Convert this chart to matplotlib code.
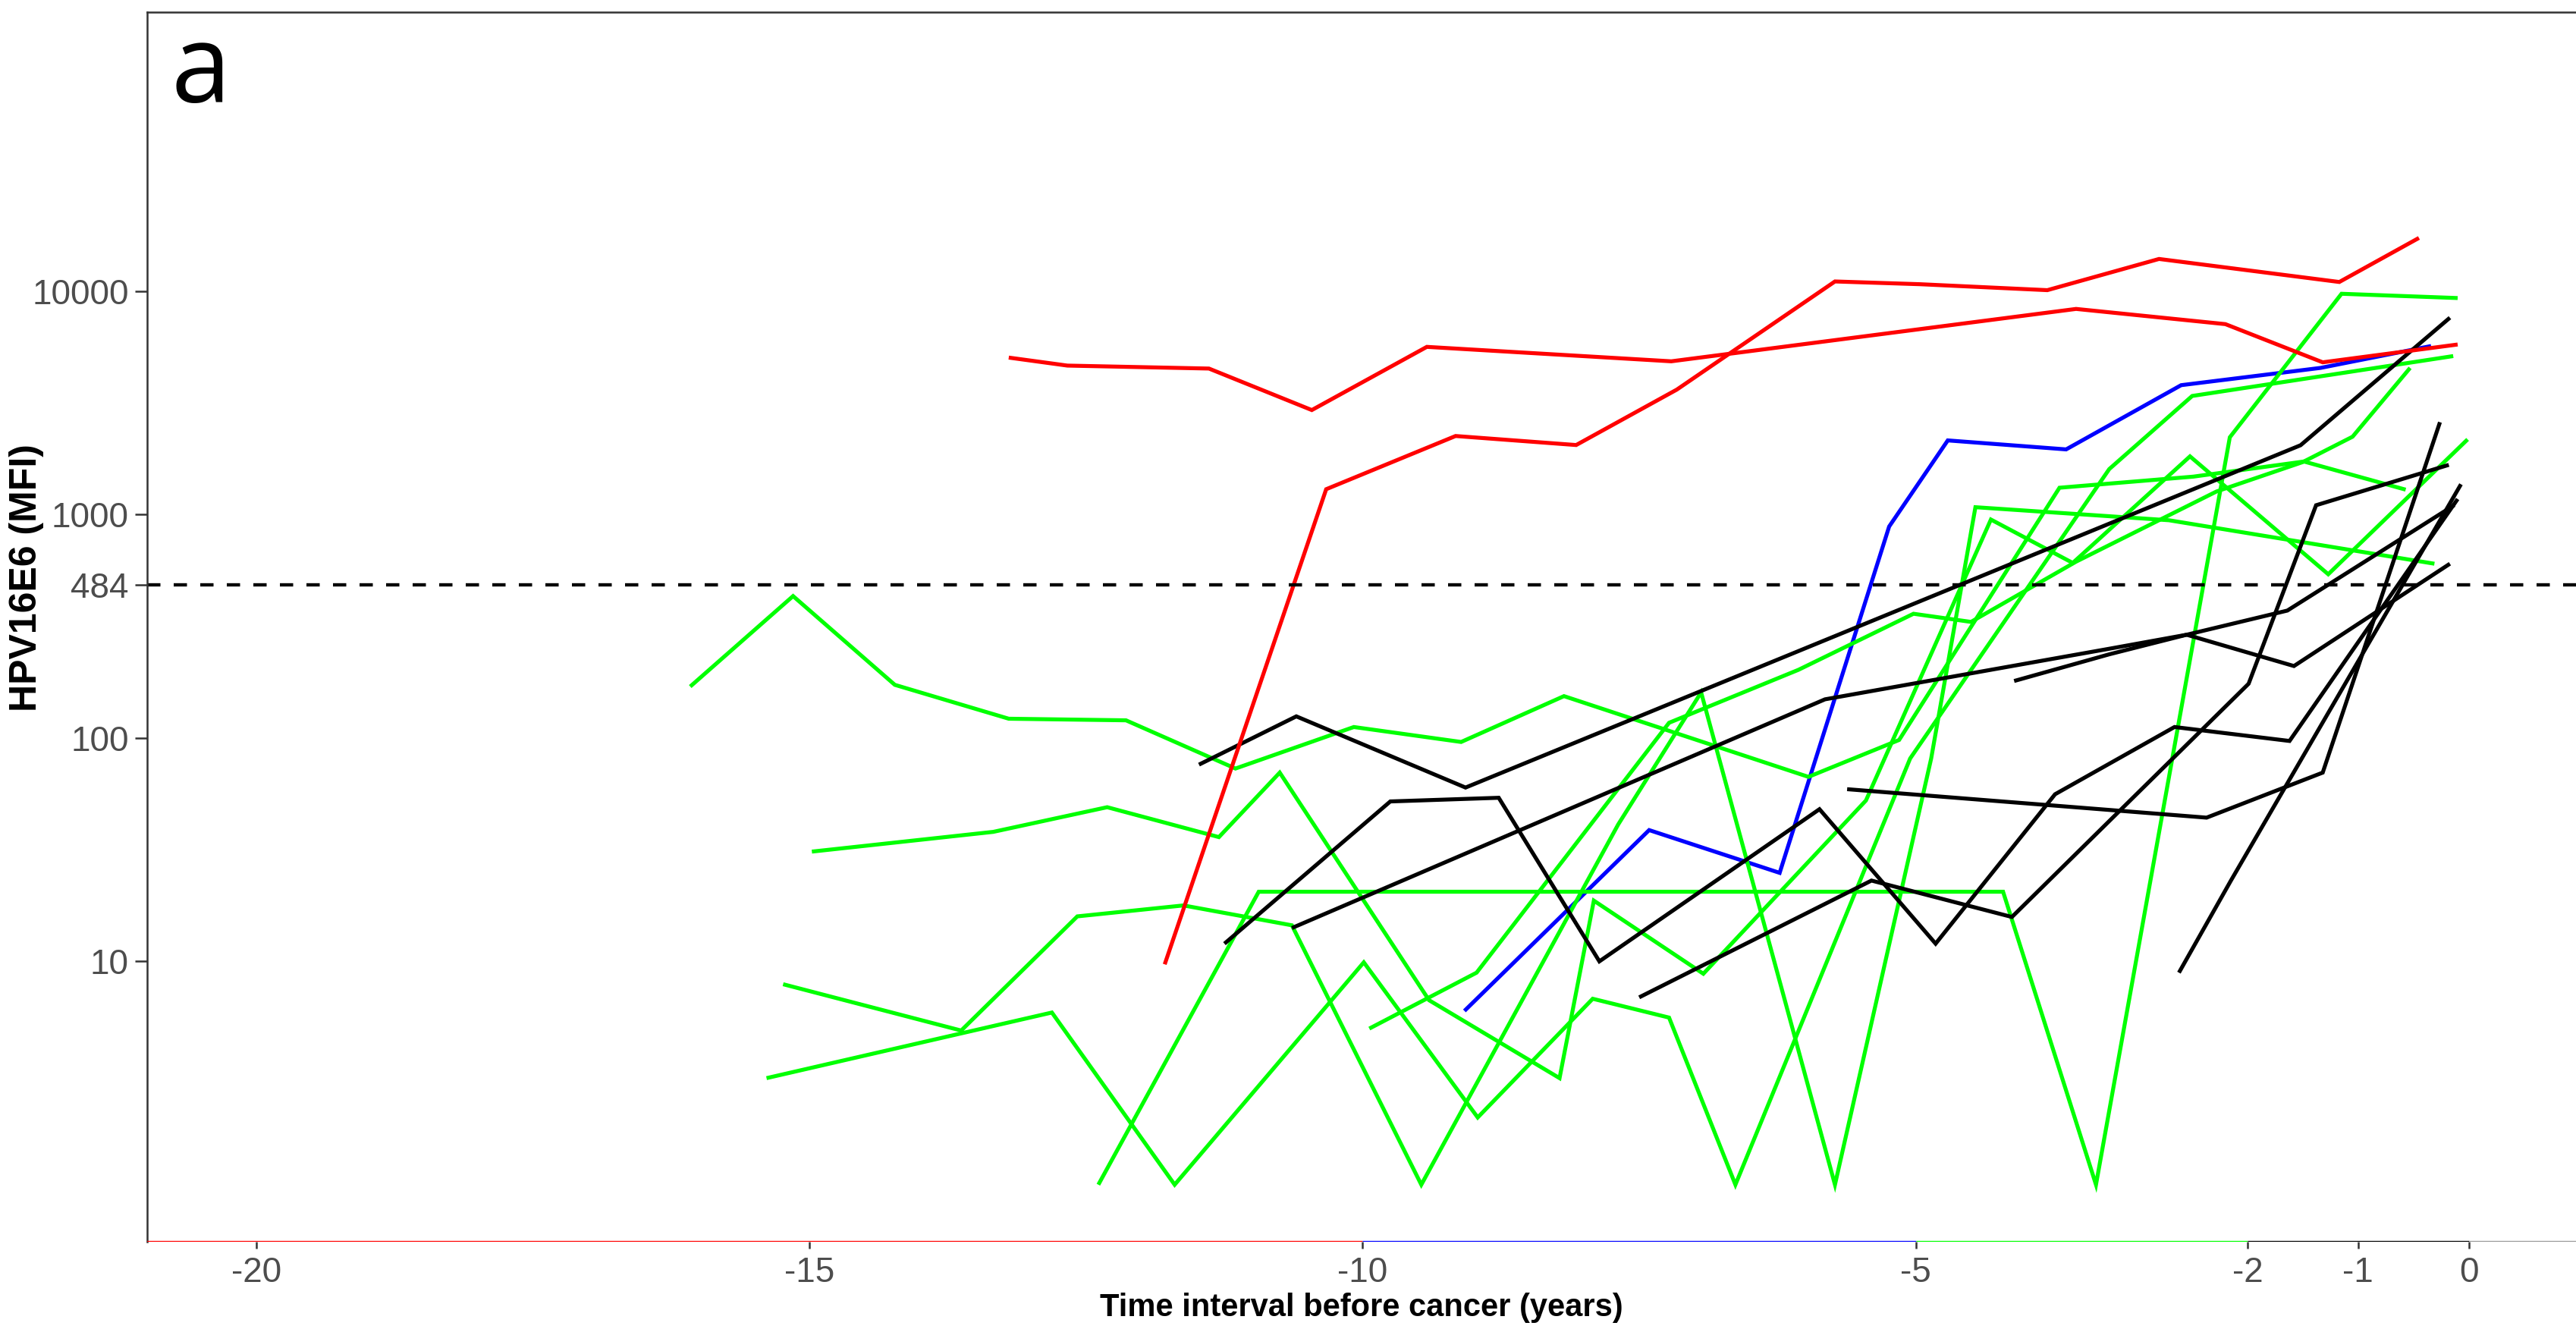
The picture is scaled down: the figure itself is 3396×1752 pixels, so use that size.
import matplotlib
matplotlib.use("Agg")
import matplotlib.pyplot as plt

# ---------------- data (time before cancer in years, HPV16E6 MFI) ----------------
red_a_x = [-13.20, -12.67, -11.39, -10.46, -9.42, -7.21, -3.55, -2.20, -1.32, -0.10]
red_a_y = [5050, 4650, 4510, 2940, 5640, 4860, 8340, 7130, 4810, 5780]
red_b_x = [-11.79, -10.33, -9.16, -8.07, -7.16, -5.73, -4.96, -3.81, -2.80, -1.17, -0.45]
red_b_y = [9.7, 1300, 2250, 2050, 3630, 11070, 10760, 10120, 13960, 11010, 17340]

blue_x = [-9.08, -7.41, -6.23, -5.24, -4.71, -3.64, -2.60, -1.34, -0.34]
blue_y = [6.0, 38.7, 24.9, 885, 2150, 1960, 3800, 4540, 5690]

black1_x = [-11.48, -10.60, -9.07, -1.52, -0.17]
black1_y = [76, 125, 60, 2046, 7620]
black2_x = [-11.25, -9.75, -8.77, -7.86, -5.87, -4.82, -3.74, -2.66, -1.62, -0.10]
black2_y = [12, 52, 54, 10, 48, 12, 56, 112, 97, 1175]
black3_x = [-5.62, -2.37, -1.32, -0.26]
black3_y = [59, 44, 70, 2594]
black4_x = [-7.50, -5.40, -4.13, -1.99, -1.38, -0.18]
black4_y = [6.9, 23, 15.8, 175, 1102, 1671]
black5_x = [-2.62, -2.15, -0.07]
black5_y = [8.9, 23, 1368]
black6_x = [-10.64, -5.82, -3.25, -2.55, -1.64, -0.13]
black6_y = [14.1, 149, 251, 290, 372, 1104]
black7_x = [-4.11, -3.25, -2.55, -1.58, -0.17]
black7_y = [180, 237, 290, 210, 603]

green1_x = [-16.08, -15.15, -14.23, -13.20, -12.14, -11.15, -10.08, -9.11, -8.18, -5.97, -5.15, -3.70, -2.49, -1.49, -0.57]
green1_y = [170, 432, 173, 122, 120, 73, 112, 96, 154, 67, 98, 1320, 1480, 1730, 1294]
green2_x = [-14.98, -13.34, -12.31, -11.30, -10.75, -9.40, -8.22, -7.91, -6.92, -5.45, -4.32, -3.58, -2.52, -1.27, -0.01]
green2_y = [31, 38, 49, 36, 70, 6.7, 3.0, 18.7, 8.8, 52.5, 951, 608, 1824, 541, 2173]
green3_x = [-15.24, -13.63, -12.58, -11.62, -10.64, -9.47, -7.69, -6.94, -5.73, -4.86, -4.46, -2.71, -0.31]
green3_y = [7.9, 4.9, 15.9, 17.8, 14.5, 1.0, 41, 160, 1.0, 81, 1080, 944, 603]
green4_x = [-15.39, -12.81, -11.70, -9.99, -8.96, -7.92, -7.23, -6.63, -5.05, -3.25, -2.50, -0.14]
green4_y = [3.0, 5.9, 1.0, 9.9, 2.0, 6.8, 5.6, 1.0, 81, 1600, 3400, 5130]
green5_x = [-12.39, -10.94, -4.21, -3.37, -2.16, -1.15, -0.10]
green5_y = [1.0, 20.5, 20.5, 1.0, 2220, 9750, 9330]
green6_x = [-9.94, -8.97, -7.23, -6.06, -5.02, -4.50, -3.55, -2.28, -1.50, -1.05, -0.53]
green6_y = [5.0, 8.9, 117, 202, 360, 331, 616, 1270, 1720, 2234, 4540]

y_ticks = [10, 100, 484, 1000, 10000]
y_tick_labels = ["10", "100", "484", "1000", "10000"]
x_ticks = [-20, -15, -10, -5, -2, -1, 0]
x_tick_labels = ["-20", "-15", "-10", "-5", "-2", "-1", "0"]
threshold = 484
axis_bands = [(-21.5, -10, "#FF0000"), (-10, -5, "#0000FF"), (-5, -2, "#00FF00"), (-2, 0, "#000000"), (0, 2, "#999999")]

# ---------------- figure ----------------
W, H = 3396, 1752
fig = plt.figure(figsize=(W / 300, H / 300), dpi=300)
left, right, top, bottom = 194, 3396, 16, 1636.7
ax = fig.add_axes([left / W, 1 - bottom / H, (right - left) / W, (bottom - top) / H])
ax.set_yscale("log")
ax.set_xlim(-20.99, 0.97)
ax.set_ylim(10 ** -0.2545, 10 ** 5.25)

lw = 1.25
series = [
    (blue_x, blue_y, "#0000FF"),
    (green1_x, green1_y, "#00FF00"), (green2_x, green2_y, "#00FF00"),
    (green3_x, green3_y, "#00FF00"), (green4_x, green4_y, "#00FF00"),
    (green5_x, green5_y, "#00FF00"), (green6_x, green6_y, "#00FF00"),
    (black1_x, black1_y, "#000000"), (black2_x, black2_y, "#000000"),
    (black3_x, black3_y, "#000000"), (black4_x, black4_y, "#000000"),
    (black5_x, black5_y, "#000000"), (black6_x, black6_y, "#000000"),
    (black7_x, black7_y, "#000000"),
    (red_a_x, red_a_y, "#FF0000"), (red_b_x, red_b_y, "#FF0000"),
]
for xs, ys, c in series:
    ax.plot(xs, ys, color=c, lw=lw, solid_joinstyle="miter", solid_capstyle="butt")

ax.axhline(threshold, color="black", lw=1.05, ls=(0, (4, 4)))

# spines
for s in ["right", "bottom"]:
    ax.spines[s].set_visible(False)
ax.spines["left"].set_linewidth(0.6)
ax.spines["top"].set_linewidth(0.6)
ax.spines["left"].set_color("#333333")
ax.spines["top"].set_color("#333333")
xt = ax.get_xaxis_transform()
for x0, x1, c in axis_bands:
    ax.plot([x0, x1], [0, 0], transform=xt, color=c, lw=0.8, clip_on=True, solid_capstyle="butt", zorder=5)

ax.minorticks_off()
ax.set_yticks(y_ticks)
ax.set_yticklabels(y_tick_labels)
ax.set_xticks(x_ticks)
ax.set_xticklabels(x_tick_labels)
ax.tick_params(axis="y", length=3.8, width=0.6, color="#333333", labelcolor="#4D4D4D", labelsize=11, pad=2)
ax.tick_params(axis="x", length=2.2, width=0.6, color="#333333", labelcolor="#4D4D4D", labelsize=11, pad=2.5)
for lab in ax.get_xticklabels() + ax.get_yticklabels():
    lab.set_fontfamily("Liberation Sans")

ax.set_xlabel("Time interval before cancer (years)", fontsize=10, fontweight="bold",
              fontfamily="Liberation Sans", labelpad=1)
ax.set_ylabel("HPV16E6 (MFI)", fontsize=12, fontweight="bold", fontfamily="Liberation Sans")
ax.yaxis.set_label_coords(-0.0425, 0.54)

fig.text(226 / W, 1 - 135 / H, "a", fontsize=34, fontfamily="Open Sans", ha="left", va="baseline")

fig.savefig("out.png", dpi=300)
